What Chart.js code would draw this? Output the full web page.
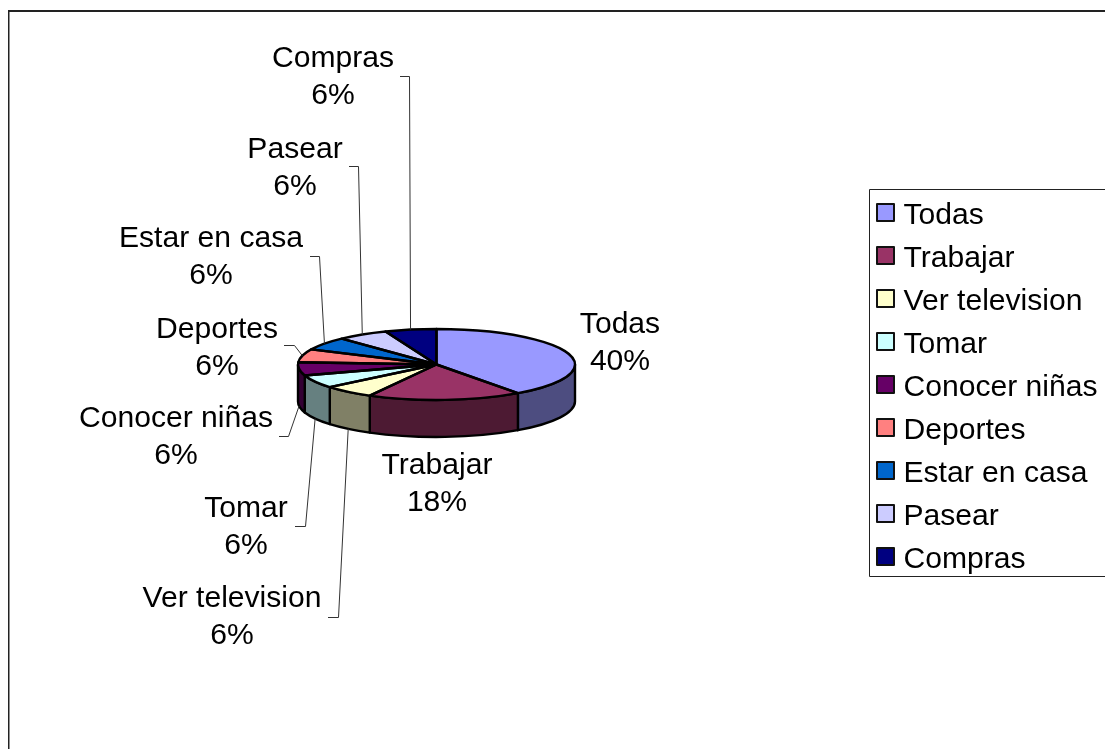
<!DOCTYPE html>
<html>
<head>
<meta charset="utf-8">
<style>html,body{margin:0;padding:0;background:#fff;overflow:hidden}canvas{display:block}</style>
<script src="https://cdn.jsdelivr.net/npm/chart.js@4/dist/chart.umd.min.js"></script>
</head>
<body>
<canvas id="c" width="1105" height="749"></canvas>
<script>
const categories = ["Todas","Trabajar","Ver television","Tomar","Conocer niñas","Deportes","Estar en casa","Pasear","Compras"];
const percentValues = [40,18,6,6,6,6,6,6,6];
const topColors = ["#9999FF","#993366","#FFFFCC","#CCFFFF","#660066","#FF8080","#0066CC","#CCCCFF","#000080"];
const wallColors = ["#4D4D80","#4D1A33","#808066","#668080","#330033","#804040","#003366","#666680","#000040"];
// label layout: centre x, first line y, elbow start [x,y], elbow corner [x,y], attach on lower rim?
const labelLayout = [
  {x:620,y:325},
  {x:437,y:466},
  {x:232,y:599,from:[328,617],corner:[338,617],low:true},
  {x:246,y:509,from:[295,526],corner:[305,526],low:true},
  {x:176,y:419,from:[279,436],corner:[288,436],low:true},
  {x:217,y:330,from:[284,345],corner:[294,345]},
  {x:211,y:239,from:[310,256],corner:[319,256]},
  {x:295,y:150,from:[349,166],corner:[358,166]},
  {x:333,y:59,from:[400,76],corner:[409,76]}
];
const FONT = '"Liberation Sans", Arial, sans-serif';
const FS = 30.1, LINE = 36.5;
const SQUASH = 0.256, DEPTH = 37;
const PIE_R = 138.5;
const LEG = {left:869,top:189,bottom:576,swatchX:877,swatch:17};

const pie3d = {
  id:'pie3d',
  beforeDraw(chart){
    const c = chart.ctx; c.save();
    c.fillStyle='#fff'; c.fillRect(0,0,chart.width,chart.height);
    c.fillStyle='#222';
    c.fillRect(8,10,chart.width-8,2);
    c.fillRect(8,10,1.5,chart.height-10);
    c.restore();
  },
  afterLayout(chart){
    const l = chart.legend;
    l.left = LEG.left; l.right = chart.width;
    l.top = 187.4; l.bottom = chart.height;
    l.width = l.right-l.left; l.height = l.bottom-l.top;
  },
  beforeDatasetsDraw(chart){
    const c = chart.ctx, arcs = chart.getDatasetMeta(0).data;
    c.save();
    c.lineWidth=2.4; c.strokeStyle='#000'; c.lineJoin='round';
    arcs.forEach((a,i)=>{
      const s=Math.max(a.startAngle,0), e=Math.min(a.endAngle,Math.PI);
      if(e<=s) return;
      const rx=a.outerRadius, ry=rx*SQUASH;
      c.beginPath();
      c.ellipse(a.x,a.y,rx,ry,0,s,e,false);
      c.ellipse(a.x,a.y+DEPTH,rx,ry,0,e,s,true);
      c.closePath();
      c.fillStyle=wallColors[i]; c.fill(); c.stroke();
    });
    c.restore();
    const a0=arcs[0];
    c.save();
    c.translate(a0.x,a0.y); c.scale(1,SQUASH); c.translate(-a0.x,-a0.y);
  },
  afterDatasetsDraw(chart){
    const c = chart.ctx, arcs = chart.getDatasetMeta(0).data;
    c.restore();
    c.save();
    c.lineWidth=2.4; c.strokeStyle='#000'; c.lineJoin='round';
    arcs.forEach(a=>{
      const rx=a.outerRadius, ry=rx*SQUASH;
      c.beginPath();
      c.moveTo(a.x,a.y);
      c.ellipse(a.x,a.y,rx,ry,0,a.startAngle,a.endAngle,false);
      c.closePath(); c.stroke();
    });
    // leader lines
    c.lineWidth=1; c.strokeStyle='#333';
    arcs.forEach((a,i)=>{
      const L=labelLayout[i]; if(!L.from) return;
      const m=(a.startAngle+a.endAngle)/2, rx=a.outerRadius, ry=rx*SQUASH;
      const ax=a.x+Math.cos(m)*rx, ay=a.y+Math.sin(m)*ry+(L.low?DEPTH:0);
      c.beginPath();
      c.moveTo(L.from[0],L.from[1]+.5);
      c.lineTo(L.corner[0]+.5,L.corner[1]+.5);
      c.lineTo(ax,ay); c.stroke();
    });
    // data labels
    const total=percentValues.reduce((p,v)=>p+v,0);
    c.fillStyle='#000'; c.font=FS+'px '+FONT; c.textAlign='center'; c.textBaseline='middle';
    categories.forEach((t,i)=>{
      const L=labelLayout[i];
      c.fillText(t,L.x,L.y);
      c.fillText(Math.round(percentValues[i]/total*100)+'%',L.x,L.y+LINE);
    });
    // legend frame and swatches
    c.lineWidth=1; c.strokeStyle='#222';
    c.beginPath();
    c.moveTo(chart.width,LEG.top+.5); c.lineTo(LEG.left+.5,LEG.top+.5);
    c.lineTo(LEG.left+.5,LEG.bottom+.5); c.lineTo(chart.width,LEG.bottom+.5); c.stroke();
    c.lineWidth=2; c.strokeStyle='#111';
    categories.forEach((t,i)=>{
      const y=LEG.top+15+i*43;
      c.fillStyle=topColors[i];
      c.fillRect(LEG.swatchX,y,LEG.swatch,LEG.swatch);
      c.strokeRect(LEG.swatchX,y,LEG.swatch,LEG.swatch);
    });
    c.restore();
  }
};

new Chart(document.getElementById('c'),{
  type:'pie',
  data:{labels:categories,datasets:[{data:percentValues,backgroundColor:topColors,borderWidth:0,radius:PIE_R,clip:false}]},
  options:{
    responsive:false,animation:false,devicePixelRatio:1,
    rotation:0,
    layout:{padding:{left:0,right:1105-873,top:0,bottom:749-729}},
    plugins:{
      tooltip:{enabled:false},
      title:{display:false},
      legend:{
        display:true,position:'chartArea',align:'start',
        labels:{
          color:'#000',font:{family:FONT,size:FS},boxWidth:6.55,boxHeight:17,padding:12.9,
          generateLabels(chart){
            return categories.map((t,i)=>({text:t,fillStyle:'rgba(0,0,0,0)',strokeStyle:'rgba(0,0,0,0)',lineWidth:0,index:i}));
          }
        }
      }
    }
  },
  plugins:[pie3d]
});
</script>
</body>
</html>
